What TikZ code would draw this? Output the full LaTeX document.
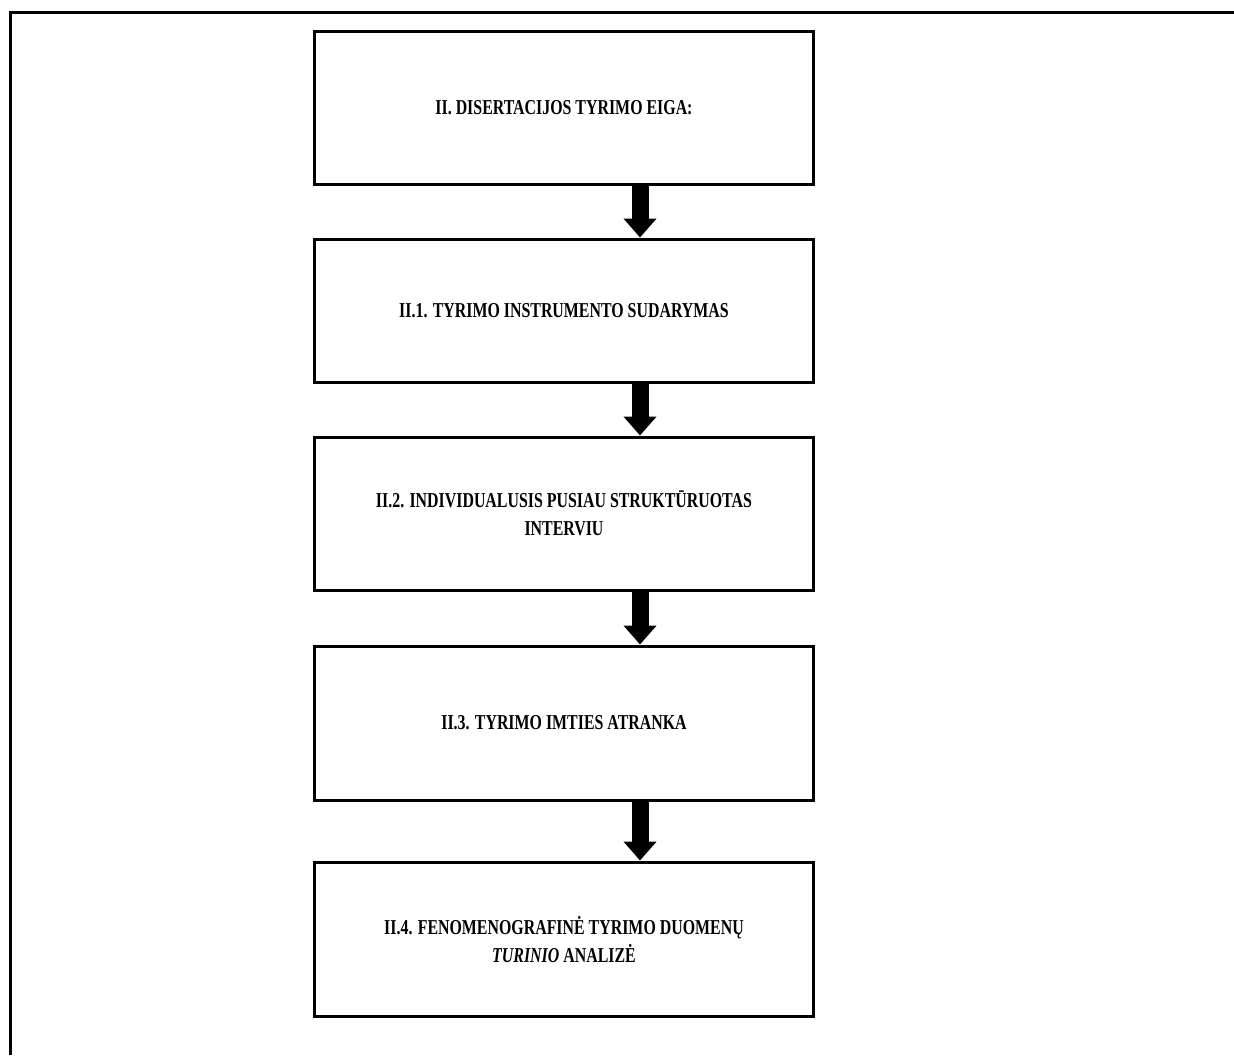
\documentclass[tikz,border=0pt]{standalone}
\usepackage{fontspec}
\setmainfont{Liberation Serif}[FakeStretch=0.75]
\usepackage{tikz}
\usetikzlibrary{positioning,arrows.meta}

\begin{document}
\begin{tikzpicture}[x=0.5pt,y=-0.5pt,font=\bfseries\fontsize{10.6}{14}\selectfont,
  stage/.style={draw=black,line width=1.5pt,minimum width=249.5pt,minimum height=77pt,
            align=center,inner sep=2pt},
  arr/.style={-{Triangle[width=16pt,length=9.5pt]},black,line width=8.5pt}]
\useasboundingbox (0,0) rectangle (1234,1055);
% outer frame (top and left edge only)
\draw[line width=1.5pt] (1234,12.5) -- (10.5,12.5) -- (10.5,1055);
% stages, top to bottom
\node[stage,minimum height=76.5pt] (eiga) at (564,107.5) {II. DISERTACIJOS TYRIMO EIGA:};
\node[stage,minimum height=71.5pt,below=26pt of eiga] (instr) {II.1. TYRIMO INSTRUMENTO SUDARYMAS};
\node[stage,minimum height=76.5pt,below=26pt of instr] (interv) {II.2. INDIVIDUALUSIS PUSIAU STRUKTŪRUOTAS\\INTERVIU};
\node[stage,below=26.5pt of interv] (imtis) {II.3. TYRIMO IMTIES ATRANKA};
\node[stage,below=29.5pt of imtis] (analize) {II.4. FENOMENOGRAFINĖ TYRIMO DUOMENŲ\\\textit{TURINIO} ANALIZĖ};
% arrows sit right of the box centres
\draw[arr] ([xshift=38pt]eiga.south) -- ([xshift=38pt]instr.north);
\draw[arr] ([xshift=38pt]instr.south) -- ([xshift=38pt]interv.north);
\draw[arr] ([xshift=38pt]interv.south) -- ([xshift=38pt]imtis.north);
\draw[arr] ([xshift=38pt]imtis.south) -- ([xshift=38pt]analize.north);
\end{tikzpicture}
\end{document}
